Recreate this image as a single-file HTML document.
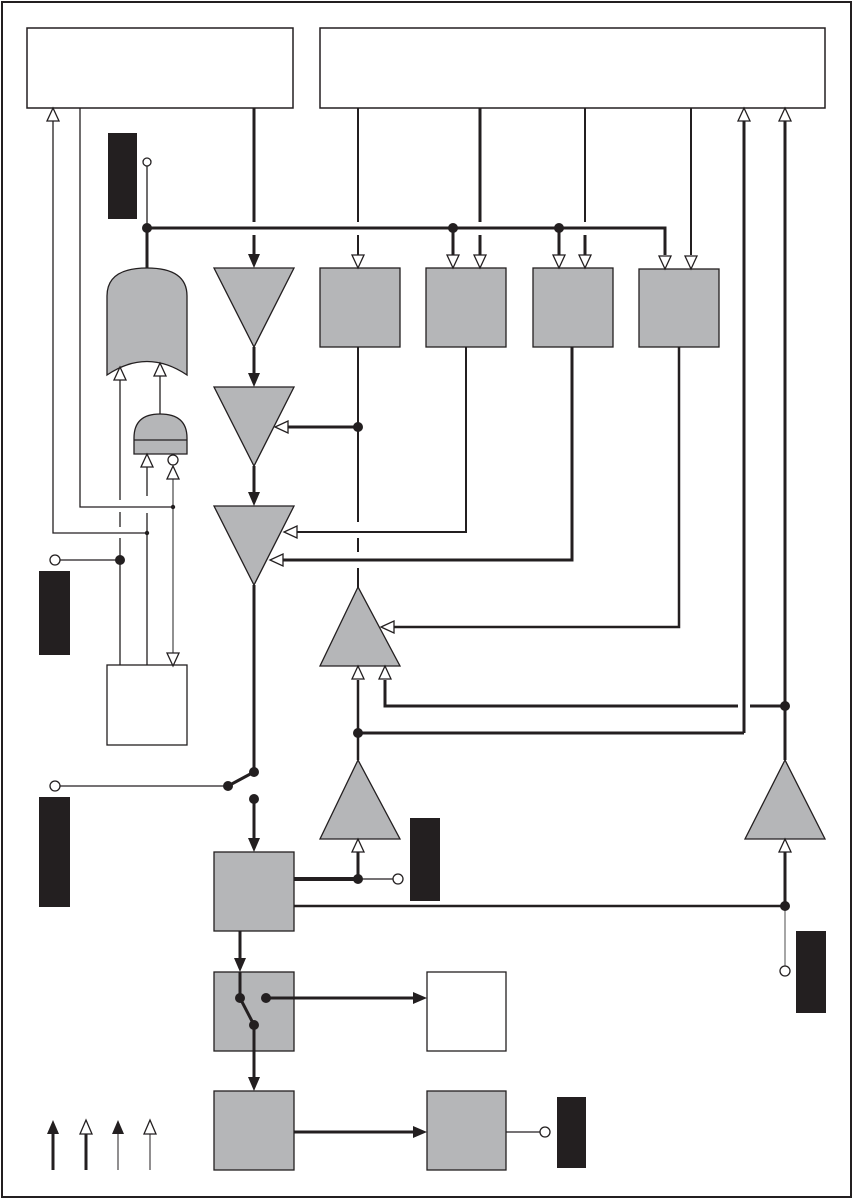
<!DOCTYPE html>
<html><head><meta charset="utf-8"><style>
html,body{margin:0;padding:0;background:#fff;}
svg{display:block;}
</style></head><body>
<svg width="855" height="1202" viewBox="0 0 855 1202" xmlns="http://www.w3.org/2000/svg">
<g fill="none" stroke="#231f20" stroke-linecap="butt">
<rect x="2" y="2" width="849" height="1195" stroke-width="2"/>
<rect x="27" y="28" width="266" height="80" stroke-width="1.5" fill="#fff"/>
<rect x="320" y="28" width="505" height="80" stroke-width="1.5" fill="#fff"/>

<polyline points="147,228 665,228 665,255" stroke-width="3"/>
<line x1="147" y1="166" x2="147" y2="228" stroke-width="1.3"/>
<line x1="147" y1="228" x2="147" y2="268" stroke-width="3"/>
<line x1="453" y1="228" x2="453" y2="255" stroke-width="3"/>
<line x1="559" y1="228" x2="559" y2="255" stroke-width="3"/>

<line x1="254" y1="108" x2="254" y2="222" stroke-width="3"/>
<line x1="254" y1="235" x2="254" y2="255" stroke-width="3"/>
<line x1="358" y1="108" x2="358" y2="222" stroke-width="2"/>
<line x1="358" y1="235" x2="358" y2="255" stroke-width="2"/>
<line x1="480" y1="108" x2="480" y2="222" stroke-width="3"/>
<line x1="480" y1="235" x2="480" y2="255" stroke-width="3"/>
<line x1="585" y1="108" x2="585" y2="222" stroke-width="2"/>
<line x1="585" y1="235" x2="585" y2="255" stroke-width="3"/>
<line x1="691" y1="108" x2="691" y2="255" stroke-width="2"/>
<line x1="744" y1="120" x2="744" y2="733" stroke-width="3"/>
<line x1="785" y1="120" x2="785" y2="760" stroke-width="3"/>

<line x1="254" y1="347" x2="254" y2="374" stroke-width="3"/>
<line x1="254" y1="466" x2="254" y2="493" stroke-width="3"/>
<line x1="254" y1="585" x2="254" y2="772" stroke-width="3"/>
<line x1="254" y1="772" x2="228" y2="786" stroke-width="3"/>
<line x1="55" y1="786" x2="228" y2="786" stroke-width="1.3"/>
<line x1="254" y1="799" x2="254" y2="838" stroke-width="3"/>

<line x1="358" y1="347" x2="358" y2="522" stroke-width="2"/>
<line x1="358" y1="538" x2="358" y2="552" stroke-width="2"/>
<line x1="358" y1="568" x2="358" y2="588" stroke-width="2"/>
<line x1="358" y1="427" x2="288" y2="427" stroke-width="3"/>
<polyline points="466,347 466,532 296,532" stroke-width="2"/>
<polyline points="572,347 572,560 282,560" stroke-width="3"/>
<polyline points="679,347 679,627 392,627" stroke-width="2.5"/>

<line x1="358" y1="680" x2="358" y2="760" stroke-width="2.5"/>
<polyline points="385,680 385,706 738,706" stroke-width="3"/>
<line x1="750" y1="706" x2="785" y2="706" stroke-width="3"/>
<polyline points="358,733 744,733" stroke-width="3"/>

<line x1="358" y1="852" x2="358" y2="879" stroke-width="3"/>
<line x1="294" y1="879" x2="358" y2="879" stroke-width="4"/>
<line x1="358" y1="879" x2="394" y2="879" stroke-width="1.3"/>
<line x1="294" y1="906" x2="785" y2="906" stroke-width="2.5"/>
<line x1="785" y1="852" x2="785" y2="906" stroke-width="3"/>
<line x1="785" y1="906" x2="785" y2="966" stroke-width="1.3" stroke="#777"/>

<line x1="120" y1="378" x2="120" y2="500" stroke-width="1.3"/>
<line x1="120" y1="512" x2="120" y2="527" stroke-width="1.3"/>
<line x1="120" y1="538" x2="120" y2="665" stroke-width="1.3"/>
<line x1="160" y1="376" x2="160" y2="414" stroke-width="1.3"/>
<line x1="147" y1="466" x2="147" y2="496" stroke-width="1.3"/>
<line x1="147" y1="513" x2="147" y2="665" stroke-width="1.3"/>
<line x1="173" y1="478" x2="173" y2="655" stroke-width="1.3" stroke="#555"/>
<polyline points="80,108 80,507 173,507" stroke-width="1.3"/>
<polyline points="53,120 53,533 147,533" stroke-width="1.3"/>
<line x1="60" y1="560" x2="120" y2="560" stroke-width="1.3"/>

<line x1="240" y1="931" x2="240" y2="959" stroke-width="3"/>
<line x1="294" y1="998" x2="414" y2="998" stroke-width="3"/>
<line x1="254" y1="1051" x2="254" y2="1078" stroke-width="3"/>
<line x1="294" y1="1132" x2="414" y2="1132" stroke-width="3"/>
<line x1="506" y1="1132" x2="541" y2="1132" stroke-width="1.3"/>

<line x1="53" y1="1130" x2="53" y2="1170" stroke-width="3"/>
<line x1="86" y1="1130" x2="86" y2="1170" stroke-width="3"/>
<line x1="118" y1="1130" x2="118" y2="1170" stroke-width="1"/>
<line x1="150" y1="1130" x2="150" y2="1170" stroke-width="1"/>
</g>

<g fill="#231f20">
<rect x="108" y="133" width="29" height="86"/>
<rect x="39" y="571" width="31" height="84"/>
<rect x="39" y="797" width="31" height="110"/>
<rect x="410" y="818" width="30" height="83"/>
<rect x="796" y="931" width="30" height="82"/>
<rect x="557" y="1097" width="29" height="71"/>
</g>

<g fill="#b5b6b8" stroke="#231f20" stroke-width="1.3">
<polygon points="214,268 294,268 254,347"/>
<polygon points="214,387 294,387 254,466"/>
<polygon points="214,506 294,506 254,585"/>
<polygon points="358,587 320,666 400,666"/>
<polygon points="358,760 320,839 400,839"/>
<polygon points="785,760 745,839 825,839"/>
<rect x="320" y="268" width="80" height="79"/>
<rect x="426" y="268" width="80" height="79"/>
<rect x="533" y="268" width="80" height="79"/>
<rect x="639" y="269" width="80" height="78"/>
<rect x="214" y="852" width="80" height="79"/>
<rect x="214" y="972" width="80" height="79"/>
<rect x="214" y="1091" width="80" height="79"/>
<rect x="427" y="1091" width="79" height="79"/>
<path d="M107,375 L107,296 Q107,268 147,268 Q187,268 187,296 L187,375 Q147,348 107,375 Z"/>
<path d="M134,454 L134,438 Q134,414 160,414 Q187,414 187,438 L187,454 Z"/>
<line x1="134" y1="440" x2="187" y2="440"/>
</g>
<g fill="#fff" stroke="#231f20" stroke-width="1.3">
<rect x="107" y="665" width="80" height="80"/>
<rect x="427" y="972" width="79" height="79"/>
</g>

<!-- switch inside box F (drawn on top) -->
<g fill="none" stroke="#231f20" stroke-width="3">
<line x1="240" y1="972" x2="240" y2="998"/>
<line x1="240" y1="998" x2="254" y2="1025"/>
<line x1="254" y1="1025" x2="254" y2="1051"/>
<line x1="266" y1="998" x2="294" y2="998"/>
</g>

<g fill="#231f20">
<polygon points="248,254 260,254 254,268"/>
<polygon points="248,373 260,373 254,387"/>
<polygon points="248,492 260,492 254,506"/>
<polygon points="248,838 260,838 254,852"/>
<polygon points="234,958 246,958 240,972"/>
<polygon points="248,1077 260,1077 254,1091"/>
<polygon points="413,992 413,1004 427,998"/>
<polygon points="413,1126 413,1138 427,1132"/>
<polygon points="47,1134 59,1134 53,1120"/>
<polygon points="112,1134 124,1134 118,1120"/>
<circle cx="147" cy="228" r="5"/>
<circle cx="453" cy="228" r="5"/>
<circle cx="559" cy="228" r="5"/>
<circle cx="358" cy="427" r="5"/>
<circle cx="120" cy="560" r="5"/>
<circle cx="173" cy="507" r="2.2"/>
<circle cx="147" cy="533" r="2.2"/>
<circle cx="358" cy="733" r="5"/>
<circle cx="785" cy="706" r="5"/>
<circle cx="254" cy="772" r="5"/>
<circle cx="228" cy="786" r="5"/>
<circle cx="254" cy="799" r="5"/>
<circle cx="358" cy="879" r="5"/>
<circle cx="785" cy="906" r="5"/>
<circle cx="240" cy="998" r="5"/>
<circle cx="266" cy="998" r="5"/>
<circle cx="254" cy="1025" r="5"/>
</g>

<g fill="#fff" stroke="#231f20" stroke-width="1.3">
<polygon points="352,255 364,255 358,268"/>
<polygon points="447,255 459,255 453,268"/>
<polygon points="474,255 486,255 480,268"/>
<polygon points="553,255 565,255 559,268"/>
<polygon points="579,255 591,255 585,268"/>
<polygon points="659,256 671,256 665,269"/>
<polygon points="685,256 697,256 691,269"/>
<polygon points="738,121 750,121 744,108"/>
<polygon points="779,121 791,121 785,108"/>
<polygon points="47,121 59,121 53,108"/>
<polygon points="114,380 126,380 120,367"/>
<polygon points="154,376 166,376 160,363"/>
<polygon points="141,467 153,467 147,454"/>
<polygon points="167,479 179,479 173,466"/>
<polygon points="167,653 179,653 173,666"/>
<polygon points="288,421 288,433 275,427"/>
<polygon points="297,526 297,538 284,532"/>
<polygon points="283,554 283,566 270,560"/>
<polygon points="394,621 394,633 381,627"/>
<polygon points="352,679 364,679 358,666"/>
<polygon points="379,679 391,679 385,666"/>
<polygon points="352,852 364,852 358,839"/>
<polygon points="779,852 791,852 785,839"/>
<polygon points="80,1134 92,1134 86,1120"/>
<polygon points="144,1134 156,1134 150,1120"/>
<circle cx="147" cy="162" r="4"/>
<circle cx="173" cy="460" r="5"/>
<circle cx="55" cy="560" r="5"/>
<circle cx="55" cy="786" r="5"/>
<circle cx="398" cy="879" r="5"/>
<circle cx="785" cy="971" r="5"/>
<circle cx="545" cy="1132" r="5"/>
</g>
</svg>
</body></html>
